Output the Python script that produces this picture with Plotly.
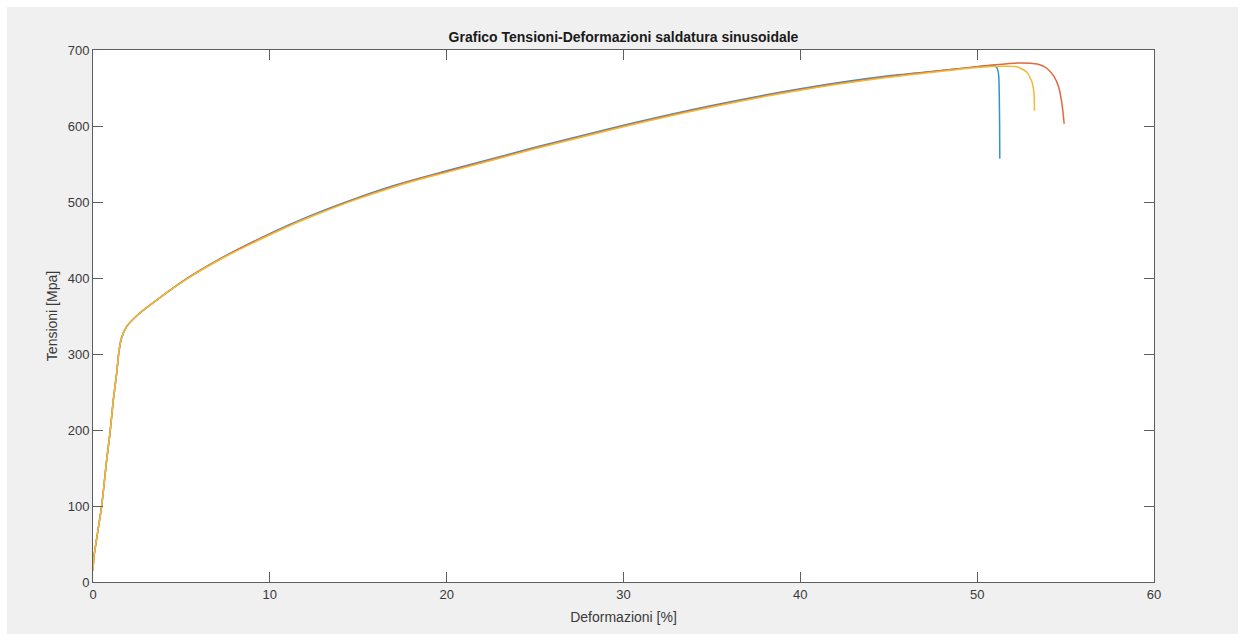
import plotly.graph_objects as go

# ---- data ----
strain_blue = [0.0, 0.05, 0.2, 0.49, 0.77, 0.96, 1.15, 1.34, 1.45, 1.6, 1.9, 2.6, 3.6, 5.5, 7.4, 9.3,
               11.1, 13.0, 14.9, 16.8, 18.4, 20.0, 25.0, 30.0, 35.0, 40.0, 45.0, 48.0, 50.0, 50.9,
               51.05, 51.15, 51.22, 51.25, 51.27, 51.28]
stress_blue = [15, 33, 56, 100, 160, 196, 240, 275, 300, 320, 336, 353, 371, 402, 428, 450.5,
               470, 488.5, 505, 520, 531, 541, 572, 601, 627, 649, 666, 673, 678, 679.5,
               678.5, 675, 666, 640, 600, 557]

strain_red = [0.0, 0.05, 0.2, 0.49, 0.77, 0.96, 1.15, 1.34, 1.45, 1.6, 1.9, 2.6, 3.6, 5.5, 7.4, 9.3,
              11.1, 13.0, 14.9, 16.8, 18.4, 20.0, 25.0, 30.0, 35.0, 40.0, 45.0, 48.0, 50.0, 51.0,
              52.4, 53.4, 53.94, 54.35, 54.6, 54.79, 54.92]
stress_red = [15, 33, 56, 100, 160, 196, 240, 275, 300, 320, 336, 353, 371, 402, 427.6, 450,
              469.3, 487.7, 504.4, 519.2, 530.2, 540, 571, 600, 626, 648, 665, 673, 678, 680.5,
              683, 681.5, 676, 665, 652, 630, 603]

strain_yellow = [0.0, 0.05, 0.2, 0.49, 0.77, 0.96, 1.15, 1.34, 1.45, 1.6, 1.9, 2.6, 3.6, 5.5, 7.4, 9.3,
                 11.1, 13.0, 14.9, 16.8, 18.4, 20.0, 25.0, 30.0, 35.0, 40.0, 45.0, 48.0, 50.0, 51.5,
                 52.24, 52.8, 53.1, 53.22, 53.24]
stress_yellow = [15, 33, 56, 100, 160, 196, 240, 275, 300, 320, 336, 353, 371, 401.5, 427, 449,
                 468.5, 486.8, 503.5, 518.2, 529.2, 539, 570, 599, 625, 647, 664, 672, 677, 678.5,
                 678, 671, 658, 641, 620]

x_ticks = [0, 10, 20, 30, 40, 50, 60]
y_ticks = [0, 100, 200, 300, 400, 500, 600, 700]

title_text = "Grafico Tensioni-Deformazioni saldatura sinusoidale"
x_label = "Deformazioni [%]"
y_label = "Tensioni [Mpa]"

FONT = "Liberation Sans, Arial, Helvetica, sans-serif"

fig = go.Figure()
series = [
    (strain_blue, stress_blue, "#3393d0"),
    (strain_red, stress_red, "#e0683f"),
    (strain_yellow, stress_yellow, "#efbb35"),
]
for xs, ys, col in series:
    fig.add_trace(go.Scatter(x=xs, y=ys, mode="lines",
                             line=dict(color=col, width=1.5, shape="spline", smoothing=0.6),
                             showlegend=False, hoverinfo="skip"))

W, H = 1241, 634
L, R, T, B = 93, 87, 50, 52
pw, ph = W - L - R, H - T - B

def px_x(p):
    return (p - L) / pw

def px_y(p):
    return (H - B - p) / ph

axis_common = dict(
    showline=True, linecolor="#5e5e5e", linewidth=1, mirror="ticks",
    ticks="inside", ticklen=10, tickcolor="#5e5e5e", tickwidth=1,
    showgrid=False, zeroline=False,
    tickfont=dict(family=FONT, size=13, color="#3a3a3a"),
)

fig.update_layout(
    width=W, height=H,
    margin=dict(l=L, r=R, t=T, b=B, pad=0),
    paper_bgcolor="#f0f0f0", plot_bgcolor="#ffffff",
    title=dict(text="<b>" + title_text + "</b>", x=0.5, xref="paper", xanchor="center",
               y=1 - 37 / H, yref="container", yanchor="middle",
               font=dict(family=FONT, size=14, color="#1a1a1a")),
    xaxis=dict(range=[0, 60], tickvals=x_ticks, ticktext=[str(v) for v in x_ticks],
               title=dict(text=x_label, font=dict(family=FONT, size=14, color="#3a3a3a"), standoff=11),
               **axis_common),
    yaxis=dict(range=[0, 700], tickvals=y_ticks, ticktext=[str(v) for v in y_ticks],
               title=dict(text=y_label, font=dict(family=FONT, size=14, color="#3a3a3a"), standoff=6),
               **axis_common),
    showlegend=False,
)

# white border strips around the grey figure window
strips = [
    (px_x(0), px_x(W), px_y(0), px_y(7)),      # top
    (px_x(0), px_x(7), px_y(H), px_y(0)),      # left
    (px_x(1238), px_x(W), px_y(H), px_y(0)),   # right
]
for x0, x1, y0, y1 in strips:
    fig.add_shape(type="rect", xref="paper", yref="paper", x0=x0, x1=x1, y0=y0, y1=y1,
                  fillcolor="#ffffff", line=dict(width=0), layer="above")

fig.write_html("out.html")
